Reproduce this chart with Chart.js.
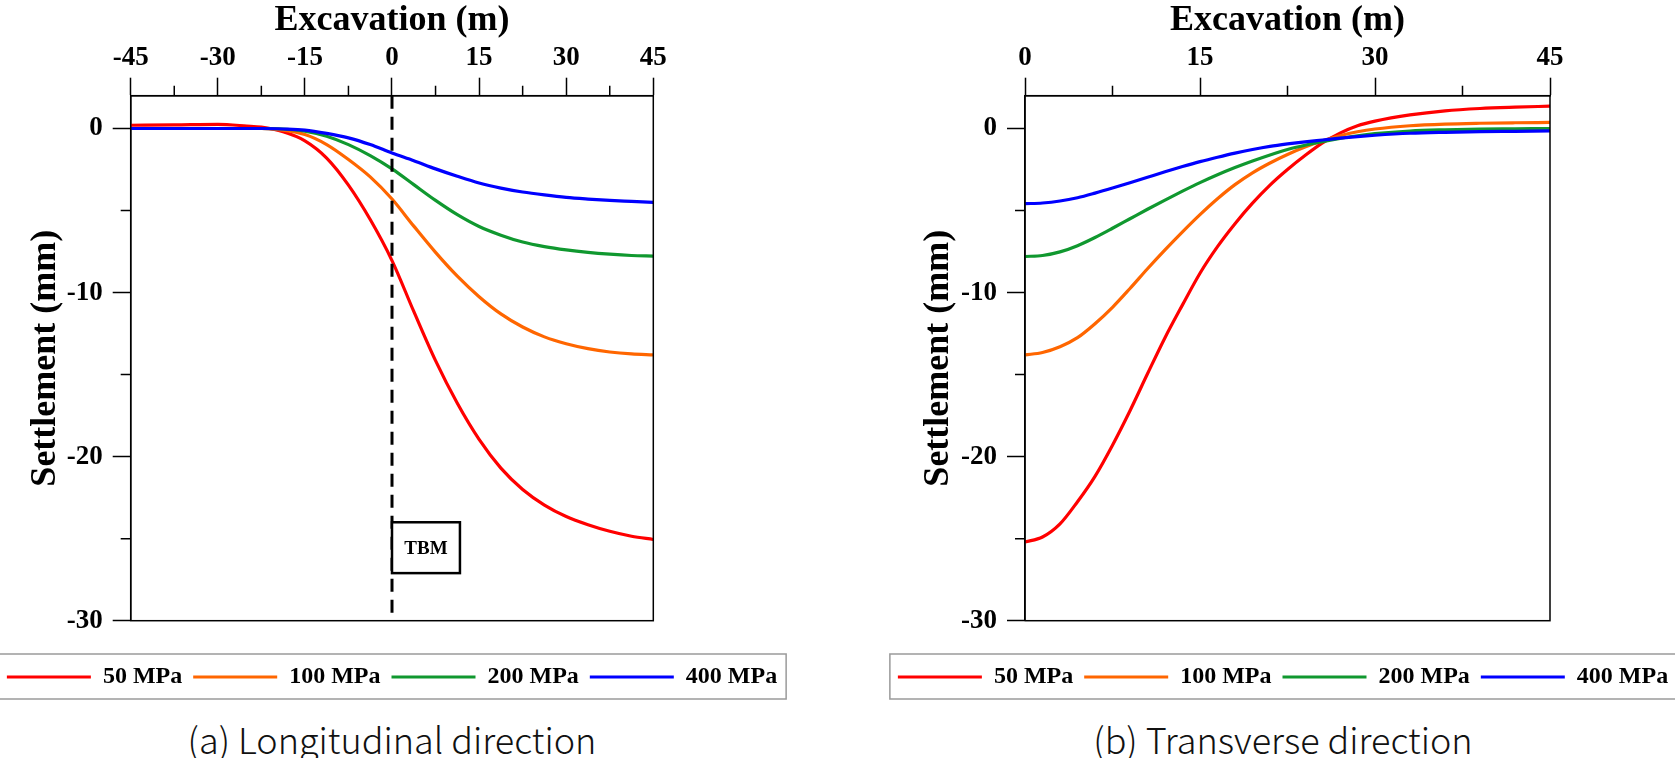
<!DOCTYPE html>
<html>
<head>
<meta charset="utf-8">
<script src="https://cdn.jsdelivr.net/npm/chart.js@4.4.0/dist/chart.umd.min.js"></script>
<style>
  body { margin: 0; background: #fff; width: 1675px; height: 758px; overflow: hidden; position: relative; }
  .panel { position: absolute; top: 0; width: 800px; height: 705px; }
  .caption { position: absolute; top: 716px; width: 600px; text-align: center;
             font-family: "Noto Sans CJK KR", "Noto Sans", sans-serif; font-weight: 300;
             font-size: 36px; line-height: 44px; color: #111; }
</style>
</head>
<body>
<div class="panel" style="left:-8px"><canvas id="longChart" width="800" height="705"></canvas></div>
<div class="panel" style="left:883px"><canvas id="transChart" width="800" height="705"></canvas></div>
<div class="caption" style="left:92px">(a) Longitudinal direction</div>
<div class="caption" style="left:983px">(b) Transverse direction</div>
<script>
const seriesLabels = ['50 MPa', '100 MPa', '200 MPa', '400 MPa'];
const seriesColors = ['#ff0000', '#ff6600', '#10982f', '#0000ff'];

// (a) longitudinal direction, excavation position (m) vs settlement (mm)
const longX   = [-45, -37.5, -30, -25, -22.5, -18.75, -15, -11.25, -7.5, -3.75, 0, 3.75, 7.5, 11.25, 15, 18.75, 22.5, 26.25, 30, 33.75, 37.5, 41.25, 45];
const long50  = [0.2, 0.22, 0.25, 0.15, 0.08, -0.2, -0.75, -1.8, -3.45, -5.55, -8.05, -11.15, -14.15, -16.75, -18.95, -20.7, -22.0, -22.95, -23.65, -24.15, -24.55, -24.85, -25.05];
const long100 = [0, 0, 0, 0, 0, -0.1, -0.37, -0.98, -1.89, -2.95, -4.3, -5.95, -7.55, -9.0, -10.25, -11.3, -12.1, -12.7, -13.12, -13.42, -13.62, -13.74, -13.8];
const long200 = [0, 0, 0, 0, 0, -0.03, -0.16, -0.47, -0.98, -1.65, -2.46, -3.42, -4.38, -5.25, -5.97, -6.5, -6.92, -7.2, -7.4, -7.55, -7.66, -7.74, -7.78];
const long400 = [0, 0, 0, 0, 0, -0.03, -0.1, -0.3, -0.57, -0.98, -1.49, -1.96, -2.46, -2.91, -3.32, -3.63, -3.87, -4.05, -4.2, -4.3, -4.38, -4.44, -4.5];

// (b) transverse direction
const transX   = [0, 1.5, 3, 4.5, 6, 7.5, 9, 10.5, 12, 13.5, 15, 16.5, 18, 19.5, 21, 22.5, 24, 25.5, 27, 28.5, 30, 33, 36, 39, 42, 45];
const trans50  = [-25.2, -24.9, -24.1, -22.75, -21.2, -19.3, -17.2, -14.95, -12.75, -10.75, -8.82, -7.2, -5.8, -4.55, -3.45, -2.5, -1.65, -0.88, -0.28, 0.17, 0.45, 0.83, 1.08, 1.22, 1.3, 1.36];
const trans100 = [-13.8, -13.65, -13.3, -12.75, -11.9, -10.9, -9.75, -8.55, -7.4, -6.3, -5.25, -4.28, -3.42, -2.7, -2.1, -1.58, -1.13, -0.75, -0.44, -0.2, -0.03, 0.17, 0.27, 0.32, 0.35, 0.37];
const trans200 = [-7.8, -7.74, -7.52, -7.14, -6.64, -6.08, -5.5, -4.92, -4.36, -3.82, -3.3, -2.82, -2.38, -1.98, -1.61, -1.28, -1.02, -0.8, -0.61, -0.44, -0.31, -0.15, -0.08, -0.04, -0.02, 0];
const trans400 = [-4.58, -4.54, -4.42, -4.22, -3.94, -3.63, -3.3, -2.97, -2.64, -2.32, -2.02, -1.75, -1.5, -1.28, -1.09, -0.94, -0.81, -0.7, -0.59, -0.49, -0.41, -0.29, -0.23, -0.19, -0.17, -0.15];

// tick labels
const longTicks  = [-45, -30, -15, 0, 15, 30, 45];
const longMinor  = [-37.5, -22.5, -7.5, 7.5, 22.5, 37.5];
const transTicks = [0, 15, 30, 45];
const transMinor = [7.5, 22.5, 37.5];
const yTicks = [-30, -20, -10, 0];
const yMinor = [-25, -15, -5];

// TBM marker (data units)
const tbmLine = [{x: 0, y: 2}, {x: 0, y: -29.6}];
const tbmBox = {x0: 0, x1: 11.7, yTop: -24.0, yBottom: -27.1};

const serif = "'Liberation Serif', 'Times New Roman', serif";
Chart.defaults.font.family = serif;
Chart.defaults.color = '#000';

function lineSets(xs, series) {
    return series.map((vals, i) => ({
        label: seriesLabels[i],
        data: xs.map((x, j) => ({x: x, y: vals[j]})),
        borderColor: seriesColors[i],
        backgroundColor: seriesColors[i],
        borderWidth: 3.2,
        pointRadius: 0,
        cubicInterpolationMode: 'monotone',
        fill: false,
        order: 4 - i
    }));
}

function framePlugin(xMinor) {
    return {
        id: 'frame',
        afterDatasetsDraw(chart) {
            const {ctx, chartArea: a, scales: {x, y}} = chart;
            ctx.save();
            ctx.strokeStyle = '#000';
            ctx.lineWidth = 1.5;
            ctx.strokeRect(a.left, a.top, a.right - a.left, a.bottom - a.top);
            ctx.beginPath();
            xMinor.forEach(v => {
                const px = x.getPixelForValue(v);
                ctx.moveTo(px, a.top);
                ctx.lineTo(px, a.top - 10);
            });
            yMinor.forEach(v => {
                const py = y.getPixelForValue(v);
                ctx.moveTo(a.left, py);
                ctx.lineTo(a.left - 10, py);
            });
            ctx.stroke();
            ctx.restore();
        },
        afterDraw(chart) {
            // border around the legend row
            const hb = chart.legend.legendHitBoxes;
            if (!hb || !hb.length) return;
            const last = hb[hb.length - 1];
            const l = hb[0].left - 8, r = last.left + last.width + 9;
            const t = hb[0].top - 11, b = hb[0].top + 34;
            const ctx = chart.ctx;
            ctx.save();
            ctx.strokeStyle = '#9a9a9a';
            ctx.lineWidth = 1.5;
            ctx.strokeRect(l, t, r - l, b - t);
            ctx.restore();
        }
    };
}

const tbmPlugin = {
    id: 'tbm',
    afterDatasetsDraw(chart) {
        const {ctx, scales: {x, y}} = chart;
        const l = x.getPixelForValue(tbmBox.x0), r = x.getPixelForValue(tbmBox.x1);
        const t = y.getPixelForValue(tbmBox.yTop), b = y.getPixelForValue(tbmBox.yBottom);
        ctx.save();
        ctx.fillStyle = '#fff';
        ctx.fillRect(l, t, r - l, b - t);
        ctx.strokeStyle = '#000';
        ctx.lineWidth = 2.5;
        ctx.strokeRect(l, t, r - l, b - t);
        ctx.fillStyle = '#000';
        ctx.font = "bold 19px " + serif;
        ctx.textAlign = 'center';
        ctx.textBaseline = 'middle';
        ctx.fillText('TBM', (l + r) / 2, (t + b) / 2 + 1);
        ctx.restore();
    }
};

function makeChart(id, datasets, xMin, xMax, xTicks, xMinor, leftW, rightW, yTitlePad, extraPlugins) {
    const tickFont = {size: 27, weight: 'bold'};
    const titleFont = {size: 36, weight: 'bold', lineHeight: 1};
    const gridOpts = {drawOnChartArea: false, tickLength: 18, tickWidth: 1.5, tickColor: '#000'};
    const borderOpts = {display: true, color: '#000', width: 1.5};
    return new Chart(document.getElementById(id), {
        type: 'line',
        data: {datasets: datasets},
        options: {
            responsive: false,
            animation: false,
            layout: {padding: {left: 0, right: 0, top: 0, bottom: 6}},
            scales: {
                x: {
                    type: 'linear', position: 'top', min: xMin, max: xMax,
                    afterBuildTicks: s => { s.ticks = xTicks.map(v => ({value: v})); },
                    afterFit: s => { s.height = 95.7; },
                    ticks: {font: tickFont, padding: 3, maxRotation: 0, autoSkip: false, color: '#000'},
                    grid: gridOpts,
                    border: borderOpts,
                    title: {display: true, text: 'Excavation (m)', font: titleFont, padding: {top: 3, bottom: 0}, color: '#000'}
                },
                y: {
                    type: 'linear', position: 'left', min: -30, max: 2,
                    afterBuildTicks: s => { s.ticks = yTicks.map(v => ({value: v})); },
                    afterFit: s => { s.width = leftW; },
                    ticks: {font: tickFont, padding: 10, color: '#000'},
                    grid: gridOpts,
                    border: borderOpts,
                    title: {display: true, text: 'Settlement (mm)', font: titleFont, padding: {top: yTitlePad, bottom: 0}, color: '#000'}
                },
                y2: {
                    type: 'linear', position: 'right', min: -30, max: 2,
                    ticks: {display: false}, grid: {display: false}, border: {display: false},
                    afterFit: s => { s.width = rightW; }
                }
            },
            plugins: {
                tooltip: {enabled: false},
                legend: {
                    position: 'bottom',
                    labels: {
                        usePointStyle: true, pointStyle: 'line', pointStyleWidth: 84, padding: 11,
                        font: {size: 24, weight: 'bold'}, color: '#000',
                        filter: it => it.datasetIndex < 4,
                        sort: (a, b) => a.datasetIndex - b.datasetIndex
                    },
                    title: {display: true, text: '', padding: {top: 23.3, bottom: 0}, font: {size: 10, lineHeight: 1}}
                }
            }
        },
        plugins: [framePlugin(xMinor)].concat(extraPlugins)
    });
}

const longSets = lineSets(longX, [long50, long100, long200, long400]);
longSets.push({
    label: 'TBM', data: tbmLine, borderColor: '#000', borderWidth: 3,
    borderDash: [13, 8], pointRadius: 0, fill: false, order: 0
});
// canvas starts at x=-8, so plot spans 130.7..653.3 on the page
makeChart('longChart', longSets, -45, 45, longTicks, longMinor, 138.7, 138.7, 36, [tbmPlugin]);

// canvas starts at x=883, plot spans 1025..1550
makeChart('transChart', lineSets(transX, [trans50, trans100, trans200, trans400]),
    0, 45, transTicks, transMinor, 142, 133, 38, []);
</script>
</body>
</html>
